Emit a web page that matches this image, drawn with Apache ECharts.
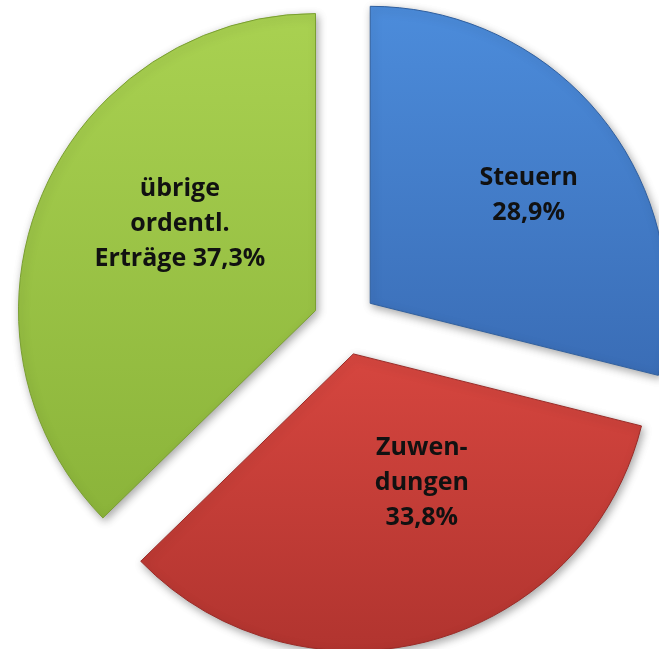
<!DOCTYPE html>
<html>
<head>
<meta charset="utf-8">
<script src="https://cdn.jsdelivr.net/npm/echarts@6/dist/echarts.min.js"></script>
<style>
html,body{margin:0;padding:0;background:#fff;}
#c{width:659px;height:649px;}
</style>
</head>
<body>
<div id="c"></div>
<script>
// Data
const categories = ['Steuern', 'Zuwendungen', 'übrige ordentl. Erträge'];
const labelTexts = ['Steuern\n28,9%', 'Zuwen-\ndungen\n33,8%', 'übrige\nordentl.\nErträge 37,3%'];
const shares = [28.9, 33.8, 37.3];

// Styling (kept separate from data)
const gradients = [
  ['#4c8cdb', '#3a6db6'],
  ['#d6463f', '#b1342f'],
  ['#a9d151', '#8bb43a']
];
const borders = ['#2f5f9f', '#9a2c28', '#7a9f31'];
const labelShift = [[39, -15], [29, -17], [4, -28]];

const chart = echarts.init(document.getElementById('c'), null, {renderer: 'canvas'});

const data = categories.map((name, i) => ({
  name: name,
  value: shares[i],
  selected: true,
  itemStyle: {
    color: new echarts.graphic.LinearGradient(0, 0, 0, 1, [
      {offset: 0, color: gradients[i][0]},
      {offset: 1, color: gradients[i][1]}
    ]),
    borderColor: borders[i]
  },
  label: {
    formatter: labelTexts[i]
  }
}));

chart.setOption({
  animation: false,
  backgroundColor: '#ffffff',
  series: [{
    type: 'pie',
    center: [345, 323],
    radius: 297,
    startAngle: 90,
    clockwise: true,
    selectedMode: 'multiple',
    selectedOffset: 32,
    avoidLabelOverlap: false,
    itemStyle: {
      borderWidth: 1,
      shadowBlur: 8,
      shadowOffsetX: 2,
      shadowOffsetY: 3,
      shadowColor: 'rgba(0,0,0,0.35)'
    },
    select: {
      itemStyle: { borderWidth: 1 }
    },
    emphasis: { disabled: true },
    label: {
      show: true,
      position: 'inside',
      color: '#111111',
      fontFamily: '"Open Sans", sans-serif',
      fontWeight: 'bold',
      fontSize: 25,
      lineHeight: 35,
      align: 'center'
    },
    labelLayout: function (params) {
      const s = labelShift[params.dataIndex];
      return { dx: s[0], dy: s[1] };
    },
    labelLine: { show: false },
    data: data
  }]
});
</script>
</body>
</html>
